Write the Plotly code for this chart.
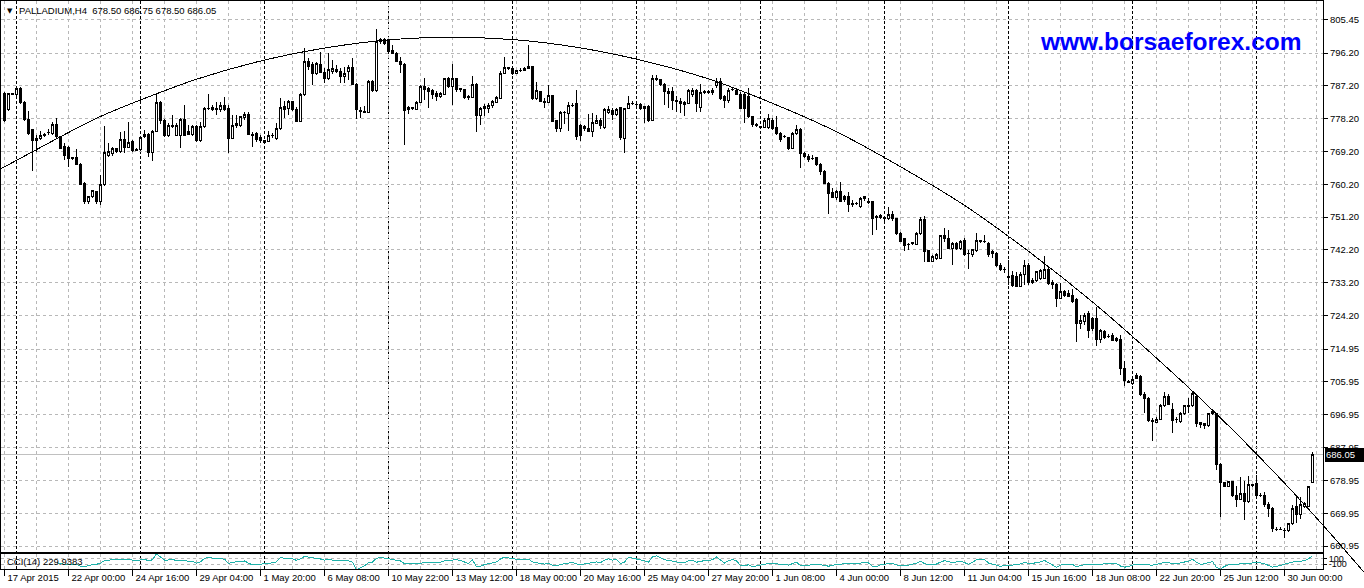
import numpy as np
import plotly.graph_objects as go

# ---------------- data ----------------
opens = [785.0,780.6,785.0,784.9,786.5,782.7,778.0,775.1,772.3,772.8,773.5,774.3,774.2,776.7,773.2,770.5,770.3,767.3,767.5,765.7,
760.45,755.4,756.8,758.2,755.4,760.0,768.0,768.7,769.9,769.1,772.5,770.2,771.9,769.6,769.6,773.2,773.9,768.96,774.8,782.7,
777.8,773.7,776.45,773.7,773.7,778.0,774.6,773.9,776.0,772.1,776.0,781.0,781.2,780.9,780.6,781.9,780.9,772.8,776.3,776.45,
778.5,779.2,773.9,774.2,773.0,771.7,771.9,773.5,772.8,775.4,781.5,780.9,782.9,780.6,777.4,784.7,793.8,793.1,790.6,793.1,
790.9,789.1,791.1,791.1,791.1,789.7,791.1,792.2,787.6,780.3,780.1,779.9,788.5,785.8,799.3,799.8,799.5,796.8,796.1,793.8,
793.1,780.6,781.0,780.8,782.7,787.0,786.5,785.8,785.1,784.2,784.9,789.1,787.0,789.1,786.5,786.1,784.2,783.9,787.6,779.0,
781.0,781.0,781.8,782.7,783.8,790.6,792.2,792.0,790.6,791.3,791.5,792.0,792.5,783.6,785.6,783.0,782.7,784.5,777.6,775.5,
779.9,779.7,781.9,782.4,776.45,776.0,775.5,774.8,776.8,777.8,775.7,779.9,780.3,779.4,781.2,772.8,781.0,782.4,782.1,782.1,
780.9,781.5,777.8,789.1,788.8,787.6,785.6,785.6,783.3,782.9,782.7,782.4,784.7,786.05,781.2,785.6,785.6,785.4,787.2,788.3,
784.2,783.3,786.3,786.05,784.9,784.7,784.2,778.7,776.5,776.0,775.7,775.7,777.8,775.7,774.2,773.25,773.0,770.05,774.2,775.1,
768.7,767.8,767.3,767.5,765.7,763.8,760.4,758.0,756.5,758.2,756.8,756.8,754.9,754.9,754.0,756.3,755.6,755.4,751.3,751.0,
751.0,750.7,751.8,750.9,746.7,745.4,743.7,744.0,743.7,746.7,750.4,741.9,739.1,739.9,739.9,746.1,745.2,742.6,744.0,742.6,
744.9,741.2,740.8,741.9,744.6,744.6,744.0,741.7,741.2,738.0,736.9,734.8,735.1,735.0,732.1,735.3,738.0,733.2,733.9,734.4,
734.4,736.7,733.2,732.6,728.9,730.7,730.1,729.8,728.6,722.0,722.5,724.6,723.4,723.4,717.65,719.75,718.4,718.8,717.45,717.65,
709.7,706.0,705.4,707.6,707.4,702.6,701.5,695.3,694.8,695.7,699.6,702.1,698.3,695.7,695.1,697.35,699.2,699.4,701.9,694.8,
694.6,693.9,697.35,697.35,683.4,678.3,677.2,678.6,674.9,673.75,675.4,673.1,677.7,678.1,674.9,674.7,672.2,671.3,665.5,665.5,
665.3,665.15,667.0,671.7,669.7,671.7,671.7,678.50]

highs = [785.6,785.1,785.1,787.0,786.8,783.0,780.3,775.4,773.7,774.8,774.2,775.4,777.2,778.3,773.3,771.4,770.8,767.8,769.9,765.9,
760.7,757.1,758.6,758.35,762.6,776.3,771.4,770.5,770.05,774.4,774.8,777.2,772.3,770.05,773.2,775.1,774.2,775.1,785.1,782.9,
778.1,776.9,779.2,776.9,778.3,781.9,776.45,776.45,776.45,777.4,781.5,784.9,781.9,782.7,782.7,784.2,781.9,779.2,779.2,779.0,
780.1,779.9,774.4,774.4,773.7,772.3,774.8,774.2,776.9,783.8,782.9,783.3,783.0,781.5,785.1,797.7,794.7,793.8,793.8,796.6,
792.0,796.1,794.3,792.9,792.0,792.5,792.9,794.7,787.9,781.5,781.8,788.8,788.8,802.8,800.2,800.2,799.8,798.4,796.4,795.2,
793.4,781.8,781.5,783.0,787.4,789.3,787.0,786.3,785.8,785.6,789.3,789.7,793.1,789.3,786.7,786.3,784.7,790.0,787.9,781.5,
782.1,782.4,783.3,784.5,791.3,795.2,792.5,792.2,791.5,792.2,792.5,798.4,792.7,788.2,785.8,783.8,787.4,784.7,777.8,780.3,
780.3,782.7,782.4,786.1,776.6,776.45,779.4,779.7,779.2,778.3,781.0,781.8,781.0,781.0,781.5,781.2,784.5,783.0,782.7,782.4,
781.8,781.9,790.2,790.2,789.1,787.9,786.5,787.0,784.5,783.8,782.9,786.3,786.5,786.2,787.6,786.05,786.0,786.7,789.25,789.25,
784.7,786.7,786.7,786.5,785.4,785.6,786.7,779.0,776.9,776.3,778.3,779.4,778.3,779.0,774.6,773.7,773.25,774.6,776.5,775.5,
769.1,768.4,768.2,767.8,765.9,764.1,760.7,759.1,758.6,760.7,757.2,758.0,755.9,755.4,756.8,757.1,756.5,755.6,751.8,751.9,
751.6,754.0,752.9,751.0,747.0,745.5,744.0,744.3,747.2,751.3,751.6,742.2,740.8,741.2,746.3,748.1,747.6,744.4,744.4,744.9,
745.4,742.2,742.4,746.7,744.9,746.3,744.3,742.2,741.7,738.5,737.6,739.4,736.4,736.2,736.2,739.4,738.5,734.4,736.5,736.85,
740.5,737.8,733.9,733.0,733.0,731.2,731.2,731.4,728.9,724.3,725.0,725.5,723.7,726.6,720.4,720.2,719.1,719.3,718.4,718.8,
711.8,706.5,707.6,708.3,707.9,703.3,701.7,696.0,696.4,699.9,703.3,702.6,700.1,696.4,697.8,699.6,701.5,703.3,702.6,695.1,
694.8,697.5,698.1,697.5,683.6,678.6,678.9,678.9,677.4,679.8,678.9,680.15,677.9,680.4,675.4,675.9,673.1,671.6,666.1,666.1,
665.8,667.35,672.2,674.3,674.5,673.1,677.4,686.75]

lows = [777.2,780.3,784.7,784.5,782.3,777.6,773.7,763.7,769.1,772.3,773.2,773.7,773.7,772.8,769.8,766.9,765.0,766.9,765.5,760.0,
754.8,754.8,756.3,754.8,754.5,759.8,767.8,768.0,768.7,768.7,768.7,770.05,769.1,769.3,769.3,772.8,767.8,766.6,774.6,776.6,
773.2,773.2,775.5,773.5,770.05,773.5,773.7,773.5,771.9,771.9,775.5,780.6,780.3,779.2,780.1,780.3,768.7,772.6,775.7,776.0,
777.8,773.7,770.5,771.9,771.4,771.4,771.7,772.8,772.3,775.1,778.3,779.2,780.3,777.2,777.2,784.5,791.5,787.4,790.2,790.6,
787.9,788.8,790.4,790.6,787.9,787.9,788.8,787.4,778.1,778.3,779.7,779.7,785.6,785.6,798.6,798.4,796.4,795.8,793.8,790.6,
771.0,779.4,780.6,780.6,782.4,783.3,781.0,783.6,783.0,783.9,784.7,786.7,781.9,785.6,785.6,783.6,783.3,783.8,774.6,776.45,
779.0,779.7,781.0,782.4,783.6,790.4,791.5,790.2,790.4,791.1,791.3,791.8,783.3,783.3,782.7,781.0,782.4,777.2,774.6,774.4,
776.6,774.8,781.5,772.3,772.1,774.8,774.6,773.2,776.6,775.4,775.4,779.4,777.8,779.0,772.3,768.7,780.9,781.9,781.8,780.6,
776.9,777.4,777.55,788.5,787.2,781.9,781.0,780.6,780.1,779.7,779.0,782.1,784.2,780.1,780.1,784.9,784.9,784.7,786.5,783.3,
781.0,782.4,785.8,784.7,780.8,776.9,778.3,776.0,776.0,775.7,775.5,775.35,775.1,773.7,771.7,773.0,769.6,769.9,773.7,764.7,
767.3,766.4,766.85,765.3,762.7,760.2,751.9,756.3,755.9,755.4,755.4,752.7,754.0,754.5,753.8,755.6,754.9,746.3,747.6,750.7,
749.8,750.4,750.1,746.4,744.3,741.9,742.2,743.5,743.5,746.4,739.0,739.0,739.0,739.4,739.7,744.4,742.4,738.0,742.2,742.2,
740.6,736.9,740.3,741.7,744.0,744.0,740.3,739.9,737.6,736.4,735.8,732.6,732.1,731.9,731.9,732.6,732.6,732.8,733.5,733.9,
734.1,732.6,731.4,726.6,728.6,729.35,729.35,727.7,717.0,720.4,721.6,717.9,720.0,715.8,716.55,717.65,717.9,717.3,717.0,707.9,
704.8,705.6,705.1,706.7,702.1,697.35,695.1,689.85,694.6,695.5,699.2,699.6,691.9,694.6,694.8,696.9,697.5,699.2,693.7,693.2,
692.95,693.7,696.9,681.8,669.0,677.05,677.05,674.5,671.7,673.6,668.1,672.8,677.2,674.5,674.5,671.7,668.8,664.9,665.15,665.3,
663.05,664.9,666.7,667.35,668.3,671.3,671.6,678.50]

closes = [777.8,785.0,784.9,786.5,782.7,778.0,774.2,772.3,772.8,773.5,773.9,774.5,776.7,773.2,770.05,768.0,767.3,767.4,765.7,760.2,
755.4,756.8,758.35,755.4,760.0,768.96,769.1,769.9,769.1,772.5,770.2,771.6,769.4,769.5,773.0,773.9,768.96,774.8,782.7,777.8,
773.5,776.45,776.0,776.45,778.0,773.7,773.9,776.0,772.1,776.0,781.0,780.9,780.6,780.6,781.9,780.6,772.8,776.45,776.9,778.8,
779.2,773.9,773.7,772.5,772.3,772.1,773.7,773.7,775.4,781.2,780.6,783.0,780.6,777.4,784.7,793.8,792.5,790.6,793.4,790.9,
789.1,791.8,792.0,791.8,789.7,790.6,792.2,787.6,780.6,780.2,780.0,788.5,785.8,799.3,799.8,798.9,796.6,796.1,794.0,793.1,
780.3,781.2,781.2,782.7,787.0,786.2,785.6,784.9,784.2,785.1,789.1,787.0,789.1,786.1,786.1,783.9,783.9,787.6,779.0,781.0,
781.5,781.8,782.9,783.9,790.6,792.2,792.0,790.6,791.3,791.5,792.0,792.5,783.6,785.8,783.0,782.7,784.5,777.4,775.5,779.9,
779.8,781.9,781.8,773.2,773.5,775.4,774.8,777.2,777.8,776.45,780.6,780.6,779.4,780.6,773.0,781.0,782.4,782.3,782.2,780.9,
781.5,777.8,789.1,788.8,787.6,785.6,785.1,783.3,782.9,782.4,782.1,786.05,786.05,782.4,785.4,785.5,785.5,786.05,788.3,783.8,
783.3,786.05,786.2,784.9,781.0,781.0,778.7,776.5,776.4,775.9,777.8,778.3,775.5,774.2,772.6,773.2,770.05,774.2,775.1,768.7,
767.8,767.1,767.2,765.5,763.6,760.4,757.7,756.5,758.2,755.6,755.9,754.7,754.7,754.8,756.3,756.8,755.2,750.9,751.2,751.6,
750.7,751.8,750.7,746.7,744.6,743.5,743.6,744.1,746.7,750.4,741.7,739.1,740.3,740.8,746.1,745.2,742.6,744.0,742.6,744.6,
740.8,741.1,742.2,744.9,744.7,744.5,740.8,741.2,738.0,736.7,736.8,734.7,732.3,732.1,735.3,737.8,733.2,733.9,736.2,736.5,
736.7,733.0,732.6,728.9,730.7,729.8,729.5,728.0,722.0,722.8,724.3,720.0,720.7,717.65,720.0,718.2,718.3,717.45,717.9,709.7,
706.3,705.9,706.7,707.0,702.4,701.5,695.3,695.2,695.7,699.6,701.9,699.9,695.5,695.6,697.35,699.4,699.6,702.9,694.6,694.4,
694.1,697.35,697.8,683.4,678.3,677.2,678.6,674.7,673.75,675.4,673.1,677.7,677.6,674.7,674.8,672.2,671.3,665.8,665.4,665.4,
665.2,667.0,671.3,669.7,672.2,672.6,677.2,686.05]

bars = list(range(len(closes)))

date_ticks = [0, 16, 32, 48, 64, 80, 96, 112, 128, 144, 160, 176, 192, 208, 224, 240, 256, 272, 288, 304, 320]
date_labels = ["17 Apr 2015", "22 Apr 00:00", "24 Apr 16:00", "29 Apr 04:00", "1 May 20:00", "6 May 08:00",
               "10 May 22:00", "13 May 12:00", "18 May 00:00", "20 May 16:00", "25 May 04:00", "27 May 20:00",
               "1 Jun 08:00", "4 Jun 00:00", "8 Jun 12:00", "11 Jun 04:00", "15 Jun 16:00", "18 Jun 08:00",
               "22 Jun 20:00", "25 Jun 12:00", "30 Jun 00:00"]
grid_bars = list(range(8, 336, 16))
price_ticks = [805.45, 796.20, 787.20, 778.20, 769.20, 760.20, 751.20, 742.20, 733.20, 724.20,
               714.95, 705.95, 696.95, 687.95, 678.95, 669.95, 660.95]
price_labels = ["%.2f" % v for v in price_ticks]
week_starts = [3, 34, 65, 96, 127, 158, 189, 220, 251, 282, 313]

curve_bars = [-1, 8, 16, 24, 32, 48, 64, 80, 96, 112, 128, 144, 160, 176, 192, 208, 224, 240, 256, 272, 288, 304, 320, 330, 340]
curve_vals = [764.4, 769.7, 774.4, 778.8, 782.45, 789.0, 794.0, 797.55, 799.8, 800.5, 799.8, 797.6, 794.0, 789.1,
              782.4, 774.6, 765.0, 754.4, 741.8, 727.9, 712.5, 696.1, 678.2, 666.2, 653.6]

symbol = "PALLADIUM,H4"
header_values = "678.50 686.75 678.50 686.05"
cci_label = "CCI(14) 229.9383"
cci_period = 14
watermark = "www.borsaeforex.com"

# CCI(14) on typical price, from the candles above
tp = (np.array(highs) + np.array(lows) + np.array(closes)) / 3.0
cci = [None] * len(tp)
for i in range(cci_period - 1, len(tp)):
    w = tp[i - cci_period + 1:i + 1]
    m = w.mean()
    md = np.abs(w - m).mean()
    cci[i] = float((tp[i] - m) / (0.015 * md)) if md > 0 else 0.0

# ---------------- layout helpers ----------------
W, H = 1364, 588
def fx(px):
    return px / W
def fy(px):
    return 1 - px / H

FONT = "Liberation Sans, Arial, sans-serif"
GRID = "#b8b8b8"
GDASH = "3px,3px"

fig = go.Figure()

fig.add_trace(go.Candlestick(
    x=bars, open=opens, high=highs, low=lows, close=closes,
    increasing=dict(line=dict(color="black", width=1), fillcolor="white"),
    decreasing=dict(line=dict(color="black", width=1), fillcolor="black"),
    whiskerwidth=0, xaxis="x", yaxis="y", hoverinfo="skip"))

fig.add_trace(go.Scatter(
    x=bars, y=cci, mode="lines", line=dict(color="#20B2AA", width=1),
    xaxis="x2", yaxis="y2", hoverinfo="skip"))

fig.add_trace(go.Scatter(
    x=curve_bars, y=curve_vals, mode="lines", line=dict(color="black", width=1, shape="spline", smoothing=1.0),
    xaxis="x3", yaxis="y3", hoverinfo="skip"))

xdom = [fx(1), fx(1323)]
xr = [-0.875, 329.625]

shapes = []
for b in week_starts:
    shapes.append(dict(type="line", xref="x", yref="paper", x0=b, x1=b, y0=fy(569.3), y1=fy(1),
                       line=dict(color="black", width=1, dash="3px,2px"), layer="below"))
shapes.append(dict(type="line", xref="paper", yref="y", x0=fx(1), x1=fx(1323),
                   y0=closes[-1], y1=closes[-1], line=dict(color="#c0c0c0", width=1), layer="below"))

annotations = [
    dict(xref="paper", yref="paper", x=fx(5), y=fy(10.5), xanchor="left", yanchor="middle",
         text="▼", showarrow=False, font=dict(family="DejaVu Sans", size=7, color="black")),
    dict(xref="paper", yref="paper", x=fx(17), y=fy(10.5), xanchor="left", yanchor="middle",
         text=symbol + "  " + header_values, showarrow=False, font=dict(family=FONT, size=9.5, color="black")),
    dict(xref="paper", yref="paper", x=fx(1038), y=fy(42), xanchor="left", yanchor="middle",
         text="<b>" + watermark + "</b>", showarrow=False,
         font=dict(family=FONT, size=24.5, color="#0000FF")),
    dict(xref="paper", yref="paper", x=fx(5), y=fy(561.5), xanchor="left", yanchor="middle",
         text=cci_label, showarrow=False, font=dict(family=FONT, size=9.5, color="black")),
    dict(xref="paper", yref="y", x=fx(1324), y=closes[-1], xanchor="left", yanchor="middle",
         text="%.2f" % closes[-1], showarrow=False, bgcolor="black", borderpad=1, width=36, align="left",
         font=dict(family=FONT, size=9.5, color="white")),
]

fig.update_layout(
    width=W, height=H, autosize=False,
    margin=dict(l=0, r=0, t=0, b=0, pad=0),
    paper_bgcolor="white", plot_bgcolor="rgba(0,0,0,0)",
    showlegend=False, hovermode=False, dragmode=False,
    boxgap=0.5, boxgroupgap=0,
    font=dict(family=FONT, size=9.5, color="black"),
    shapes=shapes, annotations=annotations,
    xaxis=dict(domain=xdom, range=xr, anchor="y", tickvals=list(range(0, 336, 8)), showticklabels=False,
               ticks="", showgrid=True, gridcolor=GRID, griddash=GDASH, gridwidth=1, zeroline=False,
               showline=True, mirror=True, linecolor="black", linewidth=1,
               rangeslider=dict(visible=False), fixedrange=True),
    yaxis=dict(domain=[fy(551.5), fy(1)], range=[659.44, 810.47], anchor="x", side="right",
               tickvals=price_ticks, ticktext=price_labels, ticks="outside", ticklen=4, tickcolor="black",
               showgrid=True, gridcolor=GRID, griddash=GDASH, zeroline=False,
               showline=True, mirror=True, linecolor="black", linewidth=1,
               tickfont=dict(family=FONT, size=9.5, color="black"), automargin=False, fixedrange=True),
    xaxis2=dict(domain=xdom, range=xr, anchor="y2", tickvals=date_ticks, ticktext=date_labels,
                ticks="outside", ticklen=6, tickcolor="black", ticklabelposition="outside right",
                tickangle=0, ticklabelstandoff=-1, ticklabelshift=2,
                showgrid=True, gridcolor=GRID, griddash=GDASH,
                minor=dict(tickvals=grid_bars, showgrid=True, gridcolor=GRID, griddash=GDASH, ticks=""),
                zeroline=False, showline=True, mirror=True, linecolor="black", linewidth=1,
                tickfont=dict(family=FONT, size=9.5, color="black"), automargin=False, fixedrange=True),
    yaxis2=dict(domain=[fy(569.3), fy(553.7)], range=[-310, 310], anchor="x2", side="right",
                tickvals=[100, -100], ticktext=["100", "-100"], ticks="outside", ticklen=3, tickcolor="black",
                showgrid=True, gridcolor=GRID, griddash=GDASH, zeroline=False,
                showline=True, mirror=True, linecolor="black", linewidth=1,
                tickfont=dict(family=FONT, size=9, color="black"), automargin=False, fixedrange=True),
    xaxis3=dict(domain=[0, 1], range=[-1.125, 339.875], anchor="y3", visible=False, fixedrange=True),
    yaxis3=dict(domain=[0, 1], range=[649.43, 810.745], anchor="x3", visible=False, fixedrange=True),
)

post = ("document.body.style.margin='0px';"
        "document.querySelectorAll('.main-svg').forEach(function(s){s.style.shapeRendering='crispEdges';});")

fig.write_html("out.html", config={"displayModeBar": False, "staticPlot": True}, post_script=post)
